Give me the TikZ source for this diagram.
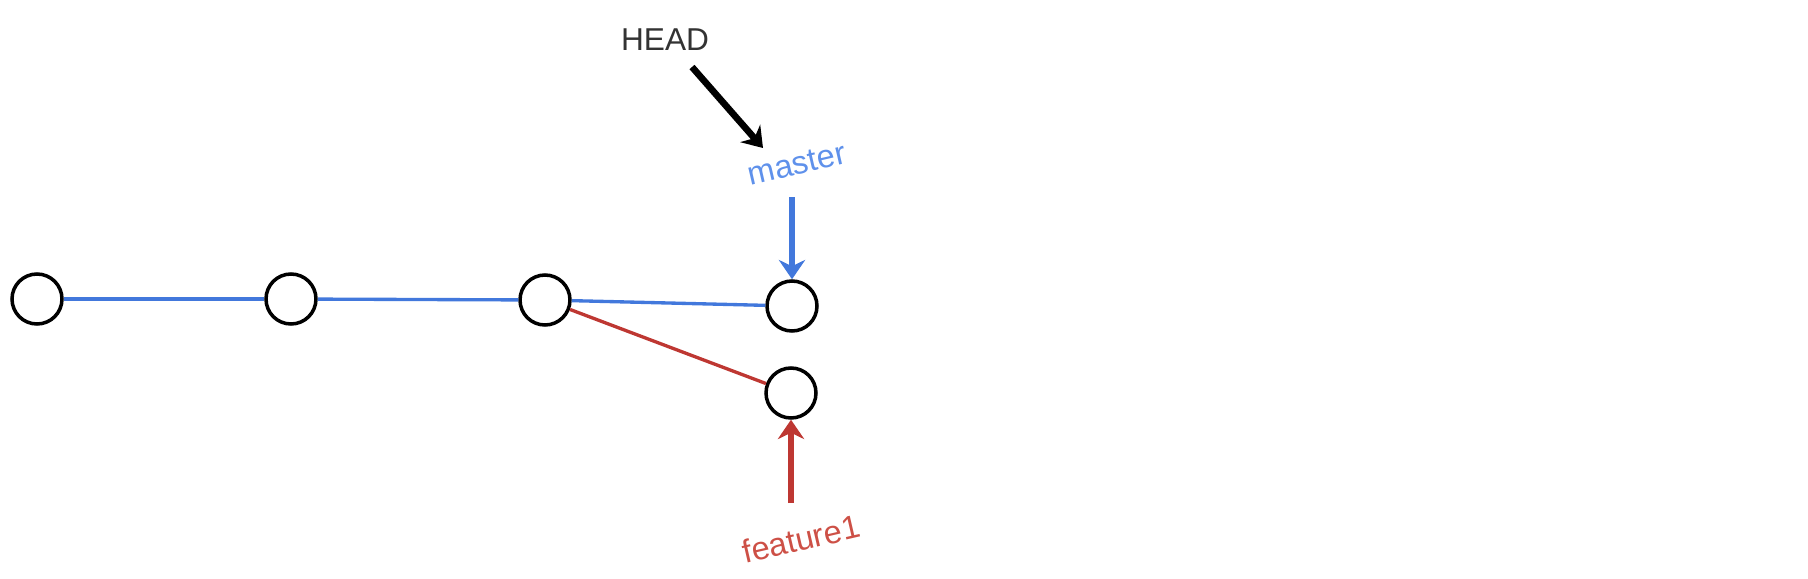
\documentclass[tikz,border=0pt]{standalone}
\usepackage{fontspec}
\setmainfont{Liberation Sans}
\usetikzlibrary{arrows.meta}
\definecolor{gitblue}{RGB}{66,120,220}
\definecolor{gitred}{RGB}{190,55,50}
\definecolor{txtblue}{RGB}{95,145,235}
\definecolor{txtred}{RGB}{205,80,70}
\begin{document}
\begin{tikzpicture}[x=0.02cm,y=-0.02cm,
commit/.style={circle,draw,line width=2pt,minimum size=1cm,inner sep=0pt},
branchline/.style={line width=1.9pt},
pointer/.style={line width=3.2pt,-{Stealth[length=11pt,width=15pt]}}]
\useasboundingbox(0,0)rectangle(1808,578);
\node[commit](c1)at(37,299){};
\node[commit](c2)at(291,299){};
\node[commit](c3)at(545,300){};
\node[commit](c4)at(792,306){};
\node[commit](c5)at(791,393){};
\node[font=\fontsize{18}{21}\selectfont,text=black!80](head)at(665,40){HEAD};
\node[font=\fontsize{18.5}{21}\selectfont,text=txtblue,rotate=13](master)at(797,164){master};
\node[font=\fontsize{18.5}{21}\selectfont,text=txtred,rotate=13](feature1)at(801,539){feature1};
\draw[branchline,gitblue](c1)--(c2);
\draw[branchline,gitblue](c2)--(c3);
\draw[branchline,gitblue](c3)--(c4);
\draw[branchline,gitred](c3)--(c5);
\coordinate(h0)at(692,67);
\coordinate(h1)at(763,148);
\draw[pointer,line width=3.8pt](h0)--(h1);
\coordinate(m0)at(792,197);
\draw[pointer,gitblue](m0)--(c4);
\coordinate(f0)at(791,503);
\draw[pointer,gitred](f0)--(c5);
\end{tikzpicture}
\end{document}
